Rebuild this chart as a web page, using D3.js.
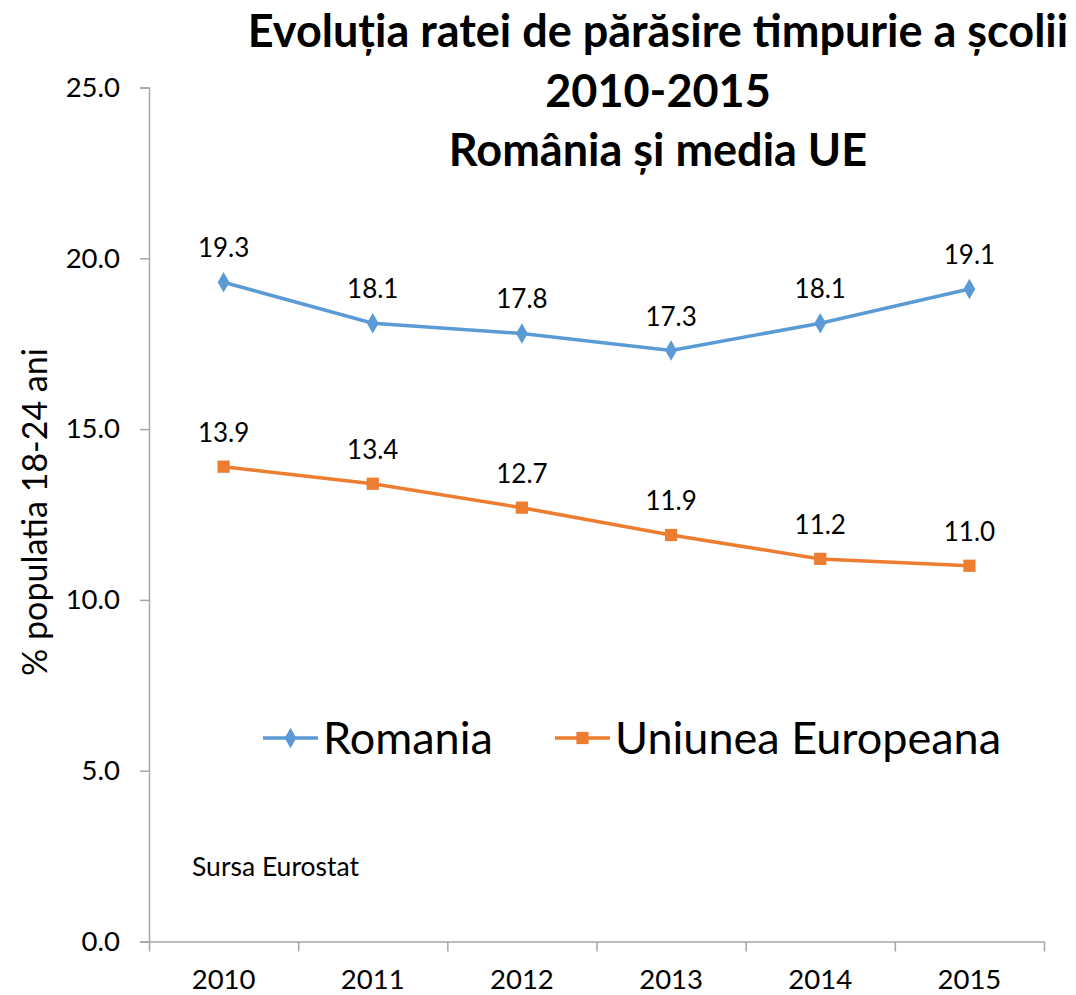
<!DOCTYPE html>
<html>
<head>
<meta charset="utf-8">
<script src="https://cdn.jsdelivr.net/npm/d3@7"></script>
<style>
  body { margin: 0; background: #fff; }
  svg { font-family: Lato, "Open Sans", sans-serif; }
</style>
</head>
<body>
<div id="chart"></div>
<script>
const years = ["2010", "2011", "2012", "2013", "2014", "2015"];
const romania = [19.3, 18.1, 17.8, 17.3, 18.1, 19.1];
const uniunea = [13.9, 13.4, 12.7, 11.9, 11.2, 11.0];
const yTicks = [0, 5, 10, 15, 20, 25];
const titleLines = ["Evoluția ratei de părăsire timpurie a școlii", "2010-2015", "România și media UE"];

const width = 1076, height = 995;
const plot = {left: 149, right: 1044, top: 87.5, bottom: 941.5};

const series = [
    {name: "Romania", values: romania, color: "#5b9bd5", shape: d3.symbolDiamond},
    {name: "Uniunea Europeana", values: uniunea, color: "#ed7d31", shape: d3.symbolSquare}
];

const svg = d3.select("#chart").append("svg")
    .attr("width", width)
    .attr("height", height);

const x = d3.scaleBand().domain(years).range([plot.left, plot.right]);
const xEdges = d3.scaleLinear().domain([0, years.length]).range([plot.left, plot.right]);
const y = d3.scaleLinear().domain([0, 25]).range([plot.bottom, plot.top]);

// y axis
svg.append("g")
    .attr("class", "yAxis")
    .attr("transform", `translate(${plot.left},0)`)
    .call(d3.axisLeft(y).tickValues(yTicks).tickFormat(d3.format(".1f")).tickSize(9).tickPadding(20))
    .call(g => g.selectAll("line, path").attr("stroke", "#a6a6a6").attr("stroke-width", 1.5))
    .call(g => g.selectAll("text").attr("font-size", 27.5).attr("fill", "#000").attr("font-family", "Lato"));

// x axis: ticks at category boundaries, labels at centres
svg.append("g")
    .attr("transform", `translate(0,${plot.bottom})`)
    .call(d3.axisBottom(xEdges).tickValues(d3.range(years.length + 1)).tickFormat("").tickSize(10).tickSizeOuter(0))
    .call(g => g.selectAll("line, path").attr("stroke", "#a6a6a6").attr("stroke-width", 1.5));

svg.append("g")
    .attr("transform", `translate(0,${plot.bottom})`)
    .call(d3.axisBottom(x).tickSize(0).tickPadding(28))
    .call(g => g.select(".domain").remove())
    .call(g => g.selectAll("text").attr("font-size", 27.5).attr("fill", "#000").attr("font-family", "Lato"));

// title
svg.append("text")
    .attr("text-anchor", "middle")
    .attr("font-weight", "bold")
    .attr("font-size", 45)
    .selectAll("tspan")
    .data(titleLines)
    .join("tspan")
    .attr("x", 658)
    .attr("y", (d, i) => 47 + i * 59.5)
    .text(d => d);

// y axis label
svg.append("text")
    .attr("transform", `translate(47,512) rotate(-90)`)
    .attr("text-anchor", "middle")
    .attr("font-size", 34)
    .text("% populatia 18-24 ani");

// source note
svg.append("text")
    .attr("x", 192)
    .attr("y", 876)
    .attr("font-size", 26.5)
    .text("Sursa Eurostat");

const line = d3.line()
    .x((d, i) => x(years[i]) + x.bandwidth() / 2)
    .y(d => y(d));

series.forEach(s => {
    const g = svg.append("g");
    g.append("path")
        .attr("d", line(s.values))
        .attr("fill", "none")
        .attr("stroke", s.color)
        .attr("stroke-width", 3.5);
    g.selectAll("path.marker")
        .data(s.values)
        .join("path")
        .attr("class", "marker")
        .attr("transform", (d, i) => `translate(${x(years[i]) + x.bandwidth() / 2},${y(d)})`)
        .attr("d", d3.symbol().type(s.shape).size(s.shape === d3.symbolSquare ? 150 : 120))
        .attr("fill", s.color);
    g.selectAll("text")
        .data(s.values)
        .join("text")
        .attr("x", (d, i) => x(years[i]) + x.bandwidth() / 2)
        .attr("y", d => y(d) - 25)
        .attr("text-anchor", "middle")
        .attr("font-size", 26)
        .text(d => d3.format(".1f")(d));
});

// legend
const legendPos = [263, 555];
const legend = svg.append("g")
    .selectAll("g")
    .data(series)
    .join("g")
    .attr("transform", (d, i) => `translate(${legendPos[i]},738)`);

legend.append("line")
    .attr("x1", 0)
    .attr("x2", 55)
    .attr("stroke", d => d.color)
    .attr("stroke-width", 3.5);

legend.append("path")
    .attr("transform", "translate(27.5,0)")
    .attr("d", d => d3.symbol().type(d.shape).size(d.shape === d3.symbolSquare ? 150 : 120)())
    .attr("fill", d => d.color);

legend.append("text")
    .attr("x", 60)
    .attr("y", 16)
    .attr("font-size", 45)
    .text(d => d.name);
</script>
</body>
</html>
